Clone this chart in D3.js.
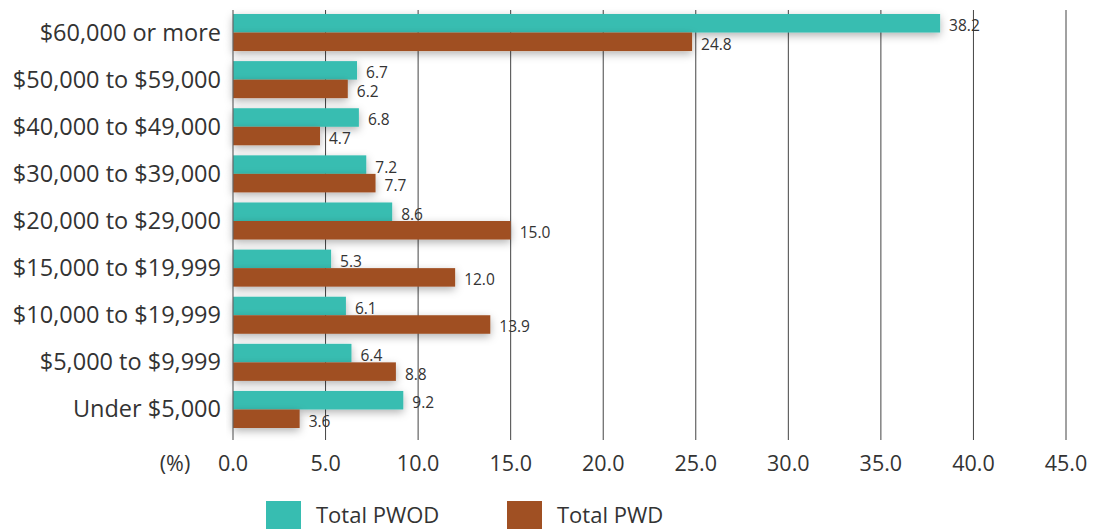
<!DOCTYPE html>
<html>
<head>
<meta charset="utf-8">
<script src="https://cdn.jsdelivr.net/npm/d3@7"></script>
<style>
  body { margin: 0; background: #fff; }
  svg { font-family: "Open Sans", "Noto Sans", sans-serif; }
</style>
</head>
<body>
<svg width="1097" height="529"></svg>
<script>
// категории и значения
const categories = ["$60,000 or more", "$50,000 to $59,000", "$40,000 to $49,000", "$30,000 to $39,000",
  "$20,000 to $29,000", "$15,000 to $19,999", "$10,000 to $19,999", "$5,000 to $9,999", "Under $5,000"];
const seriesNames = ["Total PWOD", "Total PWD"];
const pwod = [38.2, 6.7, 6.8, 7.2, 8.6, 5.3, 6.1, 6.4, 9.2];
const pwd = [24.8, 6.2, 4.7, 7.7, 15.0, 12.0, 13.9, 8.8, 3.6];
const xTicks = [0, 5, 10, 15, 20, 25, 30, 35, 40, 45];
const colors = ["#37bdb1", "#a05023"];

const svg = d3.select("svg");
const marginLeft = 233, plotRight = 1066, plotTop = 10, plotBottom = 440;

const data = categories.map((c, i) => ({ cat: c, vals: [pwod[i], pwd[i]] }));

let scaleX = d3.scaleLinear().domain([0, 45]).range([marginLeft, plotRight]);
let scaleY = d3.scaleBand().domain(categories).range([14, 428]).paddingInner(0.214).paddingOuter(0);
let scaleSub = d3.scaleBand().domain([0, 1]).range([0, scaleY.bandwidth()]);

// тень для столбиков
const defs = svg.append("defs");
const f = defs.append("filter").attr("id", "shadow")
  .attr("x", "-10%").attr("y", "-50%").attr("width", "130%").attr("height", "250%");
f.append("feDropShadow").attr("dx", 0).attr("dy", 3).attr("stdDeviation", 4)
  .attr("flood-color", "#000").attr("flood-opacity", 0.3);

// сетка
svg.append("g").selectAll("line")
  .data(xTicks.slice(1))
  .enter().append("line")
  .attr("x1", d => scaleX(d)).attr("x2", d => scaleX(d))
  .attr("y1", plotTop).attr("y2", plotBottom)
  .attr("stroke", "#444").attr("stroke-width", 1);

// столбики
const groups = svg.append("g").selectAll("g")
  .data(data).enter().append("g")
  .attr("transform", d => `translate(0, ${scaleY(d.cat)})`);

groups.selectAll("rect")
  .data(d => d.vals)
  .enter().append("rect")
  .attr("x", scaleX(0))
  .attr("y", (d, i) => scaleSub(i))
  .attr("width", d => scaleX(d) - scaleX(0))
  .attr("height", scaleSub.bandwidth())
  .attr("fill", (d, i) => colors[i])
  .attr("filter", "url(#shadow)");

groups.selectAll("text")
  .data(d => d.vals)
  .enter().append("text")
  .attr("x", d => scaleX(d) + 9)
  .attr("y", (d, i) => scaleSub(i) + scaleSub.bandwidth() / 2 + 8)
  .attr("font-size", 15.5)
  .attr("fill", "#333")
  .text(d => d.toFixed(1));

// ось Y
svg.append("line")
  .attr("x1", scaleX(0)).attr("x2", scaleX(0))
  .attr("y1", plotTop).attr("y2", plotBottom)
  .attr("stroke", "#666").attr("stroke-width", 1.2);

svg.append("g").selectAll("text")
  .data(categories).enter().append("text")
  .attr("x", 221)
  .attr("y", d => scaleY(d) + scaleY.bandwidth() / 2 + 8)
  .attr("text-anchor", "end")
  .attr("font-size", 23.5)
  .attr("fill", "#333")
  .text(d => d);

// подписи оси X
svg.append("g").selectAll("text")
  .data(xTicks).enter().append("text")
  .attr("x", d => scaleX(d))
  .attr("y", 471)
  .attr("text-anchor", "middle")
  .attr("font-size", 21.5)
  .attr("fill", "#333")
  .text(d => d.toFixed(1));

svg.append("text")
  .attr("x", 175).attr("y", 471)
  .attr("text-anchor", "middle")
  .attr("font-size", 21.5).attr("fill", "#333")
  .text("(%)");

// легенда
const legendX = [266, 507];
const leg = svg.append("g").selectAll("g")
  .data(seriesNames).enter().append("g")
  .attr("transform", (d, i) => `translate(${legendX[i]}, 501)`);
leg.append("rect").attr("width", 35).attr("height", 30).attr("fill", (d, i) => colors[i]);
leg.append("text").attr("x", 50).attr("y", 22)
  .attr("font-size", 22).attr("fill", "#333").text(d => d);
</script>
</body>
</html>
